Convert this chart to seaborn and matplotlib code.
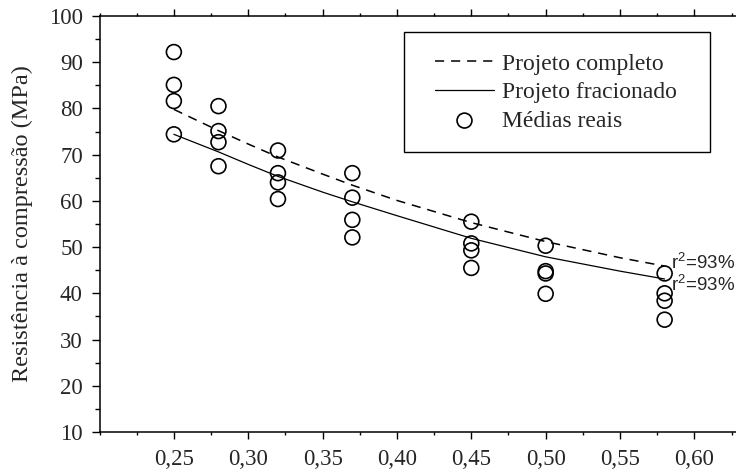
import numpy as np
import pandas as pd
import matplotlib
matplotlib.use("Agg")
import matplotlib.pyplot as plt
import seaborn as sns
from matplotlib.patches import Rectangle
from matplotlib.ticker import MultipleLocator, FuncFormatter

# measured means (x = a/c ratio, y = MPa)
x_points = [0.25, 0.25, 0.25, 0.25,
            0.28, 0.28, 0.28, 0.28,
            0.32, 0.32, 0.32, 0.32,
            0.37, 0.37, 0.37, 0.37,
            0.45, 0.45, 0.45, 0.45,
            0.50, 0.50, 0.50, 0.50,
            0.58, 0.58, 0.58, 0.58]
y_points = [92.2, 85.1, 81.6, 74.4,
            80.5, 75.1, 72.7, 67.5,
            70.9, 66.0, 64.0, 60.4,
            66.0, 60.7, 55.9, 52.1,
            55.5, 50.8, 49.3, 45.5,
            50.3, 44.8, 44.3, 39.9,
            44.3, 40.0, 38.4, 34.3]

# fitted curves
x_fit = [0.25, 0.28, 0.30, 0.32, 0.35, 0.37, 0.40, 0.45, 0.50, 0.55, 0.58]
y_completo = [79.8, 75.2, 72.3, 69.5, 65.8, 63.4, 60.1, 55.3, 51.2, 47.7, 45.9]
y_fracionado = [74.4, 70.6, 67.9, 65.3, 61.9, 59.8, 56.8, 51.9, 47.9, 44.8, 43.1]

x_ticks = [0.25, 0.30, 0.35, 0.40, 0.45, 0.50, 0.55, 0.60]
y_ticks = [10, 20, 30, 40, 50, 60, 70, 80, 90, 100]

sns.set_style("ticks")
plt.rcParams['font.family'] = ['Liberation Serif', 'DejaVu Serif']
plt.rcParams['mathtext.fontset'] = 'custom'
plt.rcParams['mathtext.rm'] = 'Liberation Sans'
plt.rcParams['mathtext.it'] = 'Liberation Sans'

fig = plt.figure(figsize=(7.36, 4.74), dpi=100)
ax = fig.add_axes([99.5 / 736, 1 - 432 / 474, (739 - 99.5) / 736, 416 / 474])

pts = pd.DataFrame({'x': x_points, 'y': y_points})
fit = pd.DataFrame({'x': x_fit, 'completo': y_completo, 'fracionado': y_fracionado})

sns.lineplot(data=fit, x='x', y='completo', ax=ax, color='black', lw=1.1,
             linestyle=(0, (6, 4.5)), label='Projeto completo')
sns.lineplot(data=fit, x='x', y='fracionado', ax=ax, color='black', lw=0.9,
             label='Projeto fracionado')
sns.scatterplot(data=pts, x='x', y='y', ax=ax, s=115, facecolor='none',
                edgecolor='black', linewidth=1.2, label='Médias reais', zorder=3)

ax.set_xlim(0.20, 0.63)
ax.set_ylim(10, 100)
ax.set_xticks(x_ticks)
ax.set_yticks(y_ticks)
ax.xaxis.set_minor_locator(MultipleLocator(0.025))
ax.yaxis.set_minor_locator(MultipleLocator(5))
ax.xaxis.set_major_formatter(FuncFormatter(lambda v, p: f"{v:.2f}".replace('.', ',')))
ax.tick_params(axis='x', which='major', direction='out', length=5, width=1,
               labelsize=16.5, color='black', top=True, labeltop=False, pad=7)
ax.tick_params(axis='y', which='major', direction='out', length=6, width=1,
               labelsize=16.5, color='black', pad=6)
ax.tick_params(axis='x', which='minor', direction='out', length=2.5, width=1,
               color='black', top=True)
ax.tick_params(axis='y', which='minor', direction='out', length=3.5, width=1,
               color='black')
for s in ax.spines.values():
    s.set_color('black')
    s.set_linewidth(1.1)

ax.set_xlabel('')
ax.set_ylabel('Resistência à compressão (MPa)', fontsize=17.5)
ax.yaxis.set_label_coords(-0.104, 0.5)

ax.text(0.584, 46.6, r'$\mathrm{r}^{2}$=93%', fontsize=13.5, family='Liberation Sans',
        va='center', ha='left')
ax.text(0.584, 41.9, r'$\mathrm{r}^{2}$=93%', fontsize=13.5, family='Liberation Sans',
        va='center', ha='left')

# legend without its own frame, box drawn separately to match the original padding
leg = ax.legend(loc='upper left', bbox_to_anchor=(0.5246, 0.911), fontsize=17,
                frameon=False, handlelength=2.5, labelspacing=0.3, borderaxespad=0,
                borderpad=0, scatterpoints=1, handletextpad=0.35)
ax.add_patch(Rectangle((0.4762, 0.673), 0.4785, 0.2885, transform=ax.transAxes,
                       fill=False, edgecolor='black', linewidth=1.0, zorder=4))

fig.savefig('out.png', dpi=100)
plt.close(fig)
